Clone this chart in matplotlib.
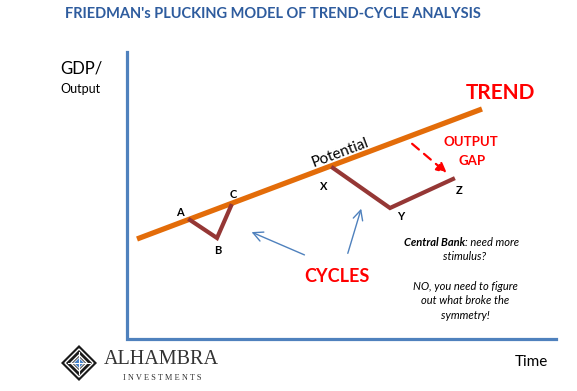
import matplotlib
matplotlib.use("Agg")
import matplotlib.pyplot as plt
from matplotlib.patches import Polygon, FancyArrowPatch

# diagram data, in picture pixels (y grows downwards)
trend_x = [137, 482]
trend_y = [239, 109]
cycle1_x = [190, 217, 231]
cycle1_y = [220, 238, 206]
cycle2_x = [333, 390, 453]
cycle2_y = [168, 208, 179]
point_labels = ["A", "B", "C", "X", "Y", "Z"]
point_label_x = [180, 218, 233, 324, 401, 459]
point_label_y = [213, 251, 195, 186, 217, 191]
gap_arrow = [(410, 142), (449, 175)]
cycle_arrows = [[(307, 256), (249, 231)], [(347, 256), (362, 206)]]
note_lines = ["stimulus?", "", "NO, you need to figure", "out what broke the", "symmetry!"]

FONT = ["Lato", "DejaVu Sans"]
RED = "#FF0000"
AXIS_BLUE = "#4F81BD"

fig = plt.figure(figsize=(5.77, 3.91), dpi=100)
ax = fig.add_axes([0, 0, 1, 1])
ax.set_xlim(0, 577)
ax.set_ylim(391, 0)
ax.axis("off")

# title
ax.text(273, 14, "FRIEDMAN's PLUCKING MODEL OF TREND-CYCLE ANALYSIS", ha="center", va="center",
        fontsize=10.5, fontweight="bold", color="#2E5C9E", family=FONT)

# axes of the sketch
ax.plot([126.5, 126.5, 556], [52, 339, 339], color=AXIS_BLUE, lw=2.3, solid_joinstyle="miter")
ax.text(60, 68, "GDP/", ha="left", va="center", fontsize=12, family=FONT)
ax.text(60, 89, "Output", ha="left", va="center", fontsize=9, family=FONT)
ax.text(531, 362, "Time", ha="center", va="center", fontsize=11, family=FONT)

# trend and cycles
ax.plot(trend_x, trend_y, color="#E36C09", lw=3.8, solid_capstyle="butt")
ax.plot(cycle1_x, cycle1_y, color="#953735", lw=3, solid_joinstyle="miter")
ax.plot(cycle2_x, cycle2_y, color="#953735", lw=3, solid_joinstyle="miter")
for lab, lx, ly in zip(point_labels, point_label_x, point_label_y):
    ax.text(lx, ly, lab, ha="center", va="center", fontsize=8, fontweight="bold", family=FONT)

ax.text(340, 153, "Potential", ha="center", va="center", rotation=20.6, rotation_mode="anchor",
        fontsize=11, family=FONT)
ax.text(500, 93, "TREND", ha="center", va="center", fontsize=15, fontweight="bold", color=RED, family=FONT)
ax.text(471, 142, "OUTPUT", ha="center", va="center", fontsize=9.5, fontweight="bold", color=RED, family=FONT)
ax.text(472, 161, "GAP", ha="center", va="center", fontsize=9.5, fontweight="bold", color=RED, family=FONT)
ax.add_patch(FancyArrowPatch(gap_arrow[0], gap_arrow[1], arrowstyle="-|>,head_length=6,head_width=3",
                             color=RED, lw=1.6, linestyle=(0, (4, 3)), mutation_scale=1))

ax.text(337, 276, "CYCLES", ha="center", va="center", fontsize=13, fontweight="bold", color=RED, family=FONT)
for start, end in cycle_arrows:
    ax.add_patch(FancyArrowPatch(start, end, arrowstyle="->,head_length=7,head_width=3.5",
                                 color=AXIS_BLUE, lw=1.0, mutation_scale=1))

# note on the right
ax.text(465, 243, "Central Bank", ha="right", va="center", fontsize=8, fontweight="bold",
        style="italic", family=FONT)
ax.text(465, 243, ": need more", ha="left", va="center", fontsize=8, style="italic", family=FONT)
for i, line in enumerate(note_lines):
    ax.text(465, 257 + 14.6 * i, line, ha="center", va="center", fontsize=8, style="italic", family=FONT)

# logo
cx, cy, r = 79, 363, 18
ax.add_patch(Polygon([(cx, cy - r), (cx + r, cy), (cx, cy + r), (cx - r, cy)], closed=True,
                     facecolor="#1a1a1a", edgecolor="none"))
for k in (0.78, 0.45):
    q = r * k
    ax.add_patch(Polygon([(cx, cy - q), (cx + q, cy), (cx, cy + q), (cx - q, cy)], closed=True,
                         facecolor="none", edgecolor="white", lw=1.0))
ax.plot([cx - r * 0.6, cx + r * 0.6], [cy, cy], color="white", lw=0.8)
ax.plot([cx, cx], [cy - r * 0.6, cy + r * 0.6], color="white", lw=0.8)
q = r * 0.3
ax.add_patch(Polygon([(cx, cy - q), (cx + q, cy), (cx, cy + q), (cx - q, cy)], closed=True,
                     facecolor="#3D7CC9", edgecolor="white", lw=0.6))
ax.text(161, 360, "ALHAMBRA", ha="center", va="center", fontsize=14.5, color="#333333",
        family=["Liberation Serif", "DejaVu Serif"])
ax.text(162, 378, "I N V E S T M E N T S", ha="center", va="center", fontsize=6, color="#333333",
        family=["Liberation Serif", "DejaVu Serif"])

fig.savefig("out.png", dpi=100)
